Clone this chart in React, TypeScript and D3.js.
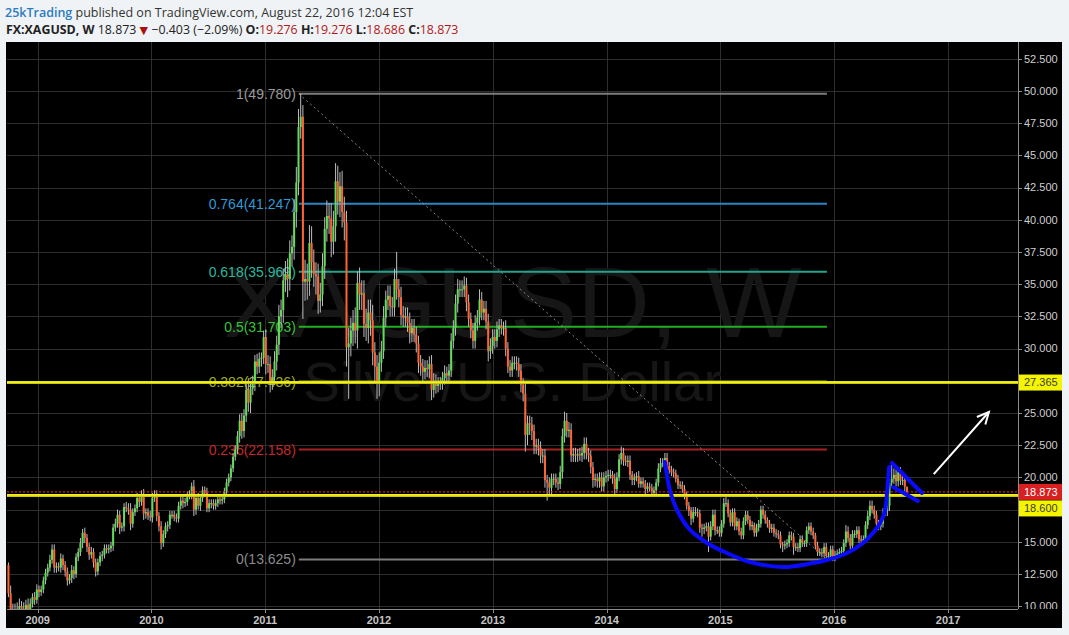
import React from "react";
import * as d3 from "d3";

// ---------------- DATA ----------------
const START_WEEK = "2008-09-29"; // first weekly bar (Monday)
const FIRST_OPEN = 13.2;

// weekly closes by year
const close2008 = [11.0, 9.7, 9.6, 8.9, 9.8, 10.0, 9.8, 9.2, 10.1, 9.7, 10.2, 10.7, 10.5, 11.3];
const close2009 = [
  11.1, 11.3, 12.0, 12.6, 13.0, 13.6, 14.4, 13.0, 13.1, 13.0, 13.7, 13.2, 12.7,
  12.0, 12.2, 12.8, 12.5, 13.8, 14.2, 14.9, 15.7, 15.3, 14.6, 14.0, 14.2, 13.4,
  12.7, 13.4, 13.9, 14.0, 14.5, 14.4, 14.5, 14.7, 16.1, 16.4, 17.1, 16.1, 16.2,
  17.7, 17.6, 17.5, 16.4, 17.3, 17.6, 18.4, 18.1, 18.6, 17.2, 17.3, 17.0, 16.9,
];
const close2010 = [
  18.4, 18.6, 17.0, 16.2, 14.9, 15.6, 16.2, 16.3, 17.1, 17.1, 16.9, 16.8, 17.8,
  18.2, 18.0, 18.1, 18.6, 18.6, 19.3, 17.5, 18.4, 17.8, 18.4, 19.0, 18.8, 17.6,
  18.0, 18.0, 17.8, 18.0, 18.3, 18.2, 18.3, 18.9, 19.6, 20.0, 20.7, 21.6, 22.2,
  23.2, 24.4, 23.6, 24.8, 26.8, 25.8, 26.9, 27.3, 29.0, 28.6, 29.2, 29.3, 30.9,
];
const close2011 = [
  28.8, 28.8, 27.4, 27.8, 29.0, 30.3, 32.5, 33.0, 35.3, 35.8, 35.4, 37.4, 37.9,
  40.6, 42.9, 47.2, 48.0, 35.2, 35.4, 35.2, 38.2, 36.7, 35.8, 35.6, 33.7, 34.2,
  36.4, 39.3, 40.3, 40.1, 38.3, 39.5, 43.0, 41.4, 42.6, 40.6, 39.8, 30.1, 30.4,
  31.4, 32.0, 31.4, 35.1, 34.2, 34.3, 31.9, 31.6, 32.8, 32.2, 29.7, 28.6, 27.3,
];
const close2012 = [
  28.9, 29.8, 32.4, 33.8, 34.1, 33.3, 33.2, 35.4, 34.6, 34.0, 32.6, 32.4, 32.5,
  32.0, 31.2, 31.6, 31.1, 30.4, 28.9, 28.6, 28.2, 28.5, 28.4, 28.8, 26.8, 27.5,
  27.1, 27.3, 27.3, 27.7, 28.1, 27.9, 28.3, 30.6, 31.6, 33.5, 34.6, 34.6, 34.6,
  34.9, 33.6, 32.3, 31.4, 30.6, 32.0, 32.4, 33.8, 32.8, 33.1, 32.1, 29.8, 30.2, 30.9,
];
const close2013 = [
  30.6, 31.5, 31.8, 31.6, 31.6, 30.0, 28.6, 28.3, 28.9, 28.9, 28.8, 28.3, 27.2,
  26.5, 23.3, 24.2, 24.1, 23.6, 22.4, 22.5, 22.3, 21.7, 21.7, 19.8, 19.6, 19.2,
  19.9, 19.9, 19.6, 19.5, 20.4, 23.2, 24.4, 23.6, 23.7, 21.7, 21.8, 21.7, 21.8,
  21.7, 21.9, 22.6, 21.9, 21.7, 20.8, 19.8, 19.9, 19.7, 20.0, 19.3, 20.0, 20.1,
];
const close2014 = [
  20.2, 20.2, 19.9, 19.1, 20.0, 21.4, 21.9, 21.3, 21.2, 21.3, 20.2, 19.8, 20.0,
  20.1, 19.5, 19.7, 19.5, 19.1, 19.3, 19.2, 18.8, 19.0, 19.6, 20.7, 21.1, 21.1,
  21.5, 20.9, 20.6, 20.4, 20.3, 19.9, 19.4, 19.4, 19.1, 18.6, 17.8, 17.4, 16.8,
  17.3, 17.3, 17.2, 16.1, 16.0, 16.1, 16.2, 15.4, 16.2, 17.1, 15.9, 15.9, 15.7,
];
const close2015 = [
  16.4, 18.0, 18.0, 17.2, 16.5, 17.3, 16.2, 16.6, 15.8, 15.5, 16.6, 17.1, 16.7,
  16.2, 16.3, 15.7, 16.1, 16.4, 17.5, 17.1, 16.7, 16.4, 16.0, 16.1, 15.7, 15.6,
  15.5, 14.8, 14.7, 14.8, 14.9, 15.5, 15.4, 14.6, 14.6, 14.5, 15.2, 14.9, 14.9,
  15.9, 16.2, 15.8, 15.5, 14.7, 14.2, 14.2, 14.1, 14.6, 13.9, 13.9, 14.4, 13.8,
];
const close2016 = [
  14.0, 14.1, 14.2, 14.3, 14.9, 15.8, 15.3, 14.7, 15.6, 15.6, 15.9, 15.2, 15.1,
  15.2, 16.3, 17.0, 17.8, 17.5, 17.1, 16.4, 16.2, 16.4, 17.3, 17.4, 17.8, 19.6,
  19.9, 20.2, 19.7, 20.4, 19.8, 19.8, 19.276, 18.873,
];

// wick extension above the body (tenths of a dollar)
const hiExt2008 = [2, 6, 5, 6, 5, 6, 4, 5, 4, 5, 4, 3, 4, 4];
const hiExt2009 = [
  3, 3, 3, 3, 3, 4, 4, 4, 3, 3, 4, 3, 3,
  3, 3, 4, 3, 3, 3, 4, 3, 4, 3, 3, 4, 3,
  3, 3, 3, 3, 3, 3, 3, 3, 3, 4, 4, 3, 3,
  3, 4, 4, 5, 3, 3, 4, 3, 4, 5, 3, 3, 4,
];
const hiExt2010 = [
  4, 4, 4, 3, 4, 3, 3, 3, 3, 3, 3, 3, 3,
  3, 3, 3, 3, 4, 3, 5, 3, 4, 3, 3, 3, 4,
  3, 3, 3, 3, 3, 3, 3, 3, 3, 3, 3, 3, 3,
  4, 5, 6, 5, 6, 9, 5, 6, 5, 6, 5, 4, 5,
];
const hiExt2011 = [
  6, 7, 6, 6, 8, 7, 9, 8, 9, 10, 12, 10, 9,
  10, 12, 14, 18, 9, 15, 12, 14, 13, 10, 9, 10, 9,
  10, 9, 12, 10, 12, 12, 14, 12, 11, 12, 12, 9, 12,
  10, 10, 12, 9, 12, 10, 10, 12, 10, 10, 12, 8, 9,
];
const hiExt2012 = [
  8, 8, 9, 7, 8, 8, 7, 8, 21, 8, 8, 7, 7,
  7, 8, 7, 7, 6, 6, 6, 6, 6, 6, 6, 7, 6,
  5, 5, 5, 5, 6, 5, 5, 6, 6, 7, 8, 7, 7,
  7, 6, 6, 5, 6, 6, 6, 8, 6, 6, 6, 6, 6, 6,
];
const hiExt2013 = [
  6, 6, 5, 5, 5, 6, 5, 5, 5, 5, 5, 5, 5,
  5, 8, 6, 6, 6, 5, 5, 5, 5, 5, 5, 4, 4,
  4, 4, 4, 4, 5, 6, 7, 6, 6, 5, 5, 5, 4,
  5, 5, 5, 5, 4, 4, 4, 4, 4, 4, 4, 4, 4,
];
const hiExt2014 = [
  4, 4, 3, 4, 4, 4, 5, 4, 4, 4, 4, 3, 3,
  3, 4, 3, 3, 3, 3, 3, 3, 3, 3, 4, 4, 4,
  4, 4, 3, 3, 3, 3, 3, 3, 3, 3, 3, 3, 3,
  4, 4, 3, 3, 3, 3, 3, 3, 4, 4, 4, 3, 3,
];
const hiExt2015 = [
  3, 4, 5, 3, 3, 3, 3, 3, 2, 3, 3, 3, 3,
  3, 3, 2, 3, 3, 3, 3, 3, 2, 3, 3, 3, 3,
  3, 3, 2, 3, 3, 3, 3, 3, 3, 3, 3, 3, 2,
  3, 3, 3, 3, 2, 3, 3, 3, 3, 3, 3, 3, 3,
];
const hiExt2016 = [
  3, 3, 3, 3, 3, 5, 4, 3, 3, 3, 3, 3, 3,
  3, 3, 4, 4, 4, 3, 3, 3, 3, 3, 3, 3, 3,
  12, 5, 4, 4, 4, 3, 4, 0,
];

// wick extension below the body (tenths of a dollar)
const loExt2008 = [3, 6, 7, 5, 4, 4, 5, 6, 4, 4, 3, 3, 4, 3];
const loExt2009 = [
  4, 3, 3, 3, 3, 3, 3, 4, 4, 3, 4, 4, 4,
  4, 3, 4, 4, 3, 3, 3, 4, 4, 4, 4, 3, 4,
  4, 3, 3, 4, 3, 3, 3, 3, 4, 3, 3, 5, 3,
  4, 3, 4, 5, 3, 3, 3, 4, 3, 5, 4, 3, 3,
];
const loExt2010 = [
  4, 3, 4, 4, 5, 3, 3, 4, 3, 3, 3, 3, 3,
  3, 4, 3, 3, 3, 3, 5, 4, 3, 4, 3, 3, 3,
  3, 4, 3, 3, 3, 3, 3, 3, 3, 3, 3, 3, 3,
  4, 5, 6, 5, 5, 7, 8, 5, 6, 6, 5, 6, 5,
];
const loExt2011 = [
  8, 7, 8, 6, 6, 7, 8, 9, 10, 9, 14, 9, 10,
  10, 12, 10, 9, 29, 15, 14, 11, 12, 10, 14, 10, 9,
  9, 10, 10, 12, 12, 10, 12, 10, 12, 12, 14, 15, 40,
  10, 12, 10, 14, 12, 12, 10, 10, 12, 12, 10, 12, 12,
];
const loExt2012 = [
  10, 7, 6, 7, 8, 8, 7, 7, 8, 8, 8, 7, 7,
  7, 8, 7, 6, 7, 8, 7, 7, 6, 6, 7, 8, 6,
  6, 5, 5, 5, 5, 5, 5, 5, 6, 6, 7, 6, 6,
  6, 7, 6, 6, 6, 6, 6, 6, 6, 6, 6, 8, 6, 6,
];
const loExt2013 = [
  6, 5, 6, 5, 6, 6, 5, 5, 5, 5, 5, 5, 6,
  6, 13, 8, 8, 7, 6, 6, 6, 6, 6, 6, 14, 6,
  5, 5, 4, 5, 4, 5, 5, 5, 5, 5, 5, 5, 5,
  4, 5, 5, 5, 5, 5, 6, 5, 5, 5, 4, 4, 4,
];
const loExt2014 = [
  4, 3, 4, 4, 3, 3, 4, 4, 3, 4, 4, 4, 4,
  3, 3, 3, 3, 4, 3, 3, 3, 3, 3, 3, 3, 3,
  3, 4, 3, 3, 3, 3, 3, 3, 3, 3, 3, 4, 5,
  3, 3, 3, 4, 6, 4, 3, 12, 3, 3, 4, 3, 3,
];
const loExt2015 = [
  3, 3, 3, 3, 3, 3, 3, 3, 3, 3, 3, 3, 3,
  3, 3, 3, 3, 3, 3, 3, 3, 3, 3, 3, 3, 3,
  3, 3, 5, 3, 3, 3, 3, 6, 3, 3, 3, 3, 3,
  3, 3, 3, 3, 3, 3, 3, 3, 3, 3, 3, 3, 3,
];
const loExt2016 = [
  3, 3, 3, 3, 3, 3, 3, 3, 3, 3, 3, 3, 3,
  3, 3, 3, 3, 3, 3, 3, 3, 3, 3, 3, 4, 4,
  4, 4, 4, 4, 4, 4, 4, 2,
];

const priceTicks = [10, 12.5, 15, 17.5, 20, 22.5, 25, 27.5, 30, 32.5, 35, 37.5, 40, 42.5, 45, 47.5, 50, 52.5];

// Fibonacci retracement
const FIB_HIGH = 49.78;
const FIB_LOW = 13.625;
const FIB_START = "2011-04-19";
const FIB_END = "2015-12-09";
const fibRatios = [1, 0.764, 0.618, 0.5, 0.382, 0.236, 0];
const fibLineColors = ["#7c7c7c", "#2a86c4", "#22a58c", "#22b022", "#a4ae1e", "#a82222", "#7c7c7c"];
const fibTextColors = ["#9a9a9a", "#2e9ad6", "#2ab89c", "#36c436", "#a0ae26", "#c42828", "#8c8c8c"];

// horizontal levels
const yellowLevels = [27.365, 18.6];

// hand-drawn annotations: [date, price]
const cupPoints: [string, number][] = [
  ["2014-07-07", 21.2], ["2014-07-23", 19.02], ["2014-08-15", 17.47], ["2014-09-26", 15.92],
  ["2014-11-19", 14.91], ["2015-01-22", 14.13], ["2015-04-06", 13.43], ["2015-07-21", 13.04],
  ["2015-10-25", 13.35], ["2015-12-09", 13.59], ["2016-02-12", 14.13], ["2016-04-03", 14.91],
  ["2016-05-05", 15.68], ["2016-05-28", 16.46], ["2016-06-13", 17.47], ["2016-06-19", 18.79],
  ["2016-06-26", 20.81],
];
const flagUpper: [string, number][] = [["2016-07-05", 21.12], ["2016-10-09", 18.79]];
const flagLower: [string, number][] = [["2016-07-08", 19.25], ["2016-09-26", 18.17]];
const arrowPts: [string, number][] = [["2016-11-16", 20.26], ["2017-05-12", 25.08]];

// header
const SYMBOL = "FX:XAGUSD, W";
const LAST = 18.873;
const CHANGE = -0.403;
const CHANGE_PCT = -2.09;
const OHLC = { O: 19.276, H: 19.276, L: 18.686, C: 18.873 };

// ---------------- LAYOUT ----------------
const W = 1069;
const H = 635;
const PL = 7;
const PR = 1018;
const PT = 42;
const PB = 609;

const parse = d3.utcParse("%Y-%m-%d");
const xCal = d3.scaleUtc().domain([parse("2009-01-05")!, parse("2016-01-04")!]).range([39, 835]);
const x = d3.scaleUtc().domain([xCal.invert(PL), xCal.invert(PR)]).range([PL, PR]);
const y = d3.scaleLinear().domain([9.783, 53.804]).range([PB, PT]);

const closes = [
  ...close2008, ...close2009, ...close2010, ...close2011, ...close2012,
  ...close2013, ...close2014, ...close2015, ...close2016,
];
const hiExt = [
  ...hiExt2008, ...hiExt2009, ...hiExt2010, ...hiExt2011, ...hiExt2012,
  ...hiExt2013, ...hiExt2014, ...hiExt2015, ...hiExt2016,
];
const loExt = [
  ...loExt2008, ...loExt2009, ...loExt2010, ...loExt2011, ...loExt2012,
  ...loExt2013, ...loExt2014, ...loExt2015, ...loExt2016,
];

const start = parse(START_WEEK)!;
const candles = closes.map((c, i) => {
  const o = i === 0 ? FIRST_OPEN : closes[i - 1];
  const h = Math.max(o, c) + (hiExt[i] ?? 3) / 10;
  const l = Math.min(o, c) - (loExt[i] ?? 3) / 10;
  return { date: d3.utcDay.offset(start, 7 * i), o, h, l, c };
});

const fmt3 = d3.format(".3f");
const pt = (p: [string, number]): [number, number] => [x(parse(p[0])!), y(p[1])];

export default function App() {
  const years = x.ticks(d3.utcYear.every(1)!);
  const fibX1 = x(parse(FIB_START)!);
  const fibX2 = x(parse(FIB_END)!);
  const lastClose = candles[candles.length - 1].c;

  const cupLine = d3.line().curve(d3.curveCatmullRom.alpha(0.5))(cupPoints.map(pt)) || "";
  const [a0, a1] = arrowPts.map(pt);
  const ang = Math.atan2(a1[1] - a0[1], a1[0] - a0[0]);
  const headLen = 13;
  const wing = (s: number) => [a1[0] - headLen * Math.cos(ang + s * 0.45), a1[1] - headLen * Math.sin(ang + s * 0.45)];
  const w1 = wing(1);
  const w2 = wing(-1);

  const boxes = [
    { v: yellowLevels[0], cy: y(yellowLevels[0]), fill: "#f5f500", color: "#3a3a3a" },
    { v: lastClose, cy: y(lastClose), fill: "#d92020", color: "#ffffff" },
    { v: yellowLevels[1], cy: y(yellowLevels[1]) + 13, fill: "#f5f500", color: "#3a3a3a" },
  ];

  const bodyW = 2;

  return (
    <div style={{ position: "fixed", left: 0, top: 0, width: W, height: H, background: "#f0f3f6" }}>
      <svg width={W} height={H} style={{ display: "block" }}>
        <defs>
          <clipPath id="plot">
            <rect x={PL} y={PT} width={PR - PL} height={PB - PT} />
          </clipPath>
          <clipPath id="axisR">
            <rect x={PR} y={PT} width={W - PR} height={PB - PT} />
          </clipPath>
        </defs>

        {/* header */}
        <text x={5} y={17} fontFamily="'Open Sans', sans-serif" fontSize={12.5}>
          <tspan fill="#2b7cc0" fontWeight={600}>25kTrading</tspan>
          <tspan fill="#333"> published on TradingView.com, August 22, 2016 12:04 EST</tspan>
        </text>
        <text x={6} y={34} fontFamily="'Open Sans', sans-serif" fontSize={12.4} fill="#222">
          <tspan fontWeight={700}>{SYMBOL}</tspan>
          <tspan> {fmt3(LAST)} </tspan>
          <tspan fill="#a80f0f" fontFamily="'DejaVu Sans', sans-serif" fontSize={11}>▼</tspan>
          <tspan> {"\u2212" + fmt3(Math.abs(CHANGE))} ({"\u2212" + Math.abs(CHANGE_PCT).toFixed(2)}%) </tspan>
          <tspan fontWeight={700}>O:</tspan>
          <tspan fill="#b01818">{fmt3(OHLC.O)} </tspan>
          <tspan fontWeight={700}>H:</tspan>
          <tspan fill="#b01818">{fmt3(OHLC.H)} </tspan>
          <tspan fontWeight={700}>L:</tspan>
          <tspan fill="#b01818">{fmt3(OHLC.L)} </tspan>
          <tspan fontWeight={700}>C:</tspan>
          <tspan fill="#b01818">{fmt3(OHLC.C)}</tspan>
        </text>

        {/* chart background */}
        <rect x={6} y={PT} width={1056} height={628 - PT} fill="#000" />

        {/* grid */}
        {priceTicks.map((t) => (
          <line key={"hg" + t} x1={PL} x2={PR} y1={Math.round(y(t)) + 0.5} y2={Math.round(y(t)) + 0.5} stroke="#2e2e2e" />
        ))}
        {years.map((d) => (
          <line key={"vg" + d.getTime()} x1={Math.round(x(d)) + 0.5} x2={Math.round(x(d)) + 0.5} y1={PT} y2={PB} stroke="#2e2e2e" />
        ))}

        {/* watermark */}
        <g fontFamily="'Liberation Sans', Arial, sans-serif" fill="#161616" textAnchor="middle">
          <text x={(PL + PR) / 2} y={337} fontSize={101}>XAGUSD, W</text>
          <text x={(PL + PR) / 2} y={401} fontSize={55}>Silver/U.S. Dollar</text>
        </g>

        <g clipPath="url(#plot)">
          {/* fib levels */}
          {fibRatios.map((r, i) => {
            const v = FIB_LOW + r * (FIB_HIGH - FIB_LOW);
            const yy = y(v);
            return (
              <g key={"fib" + r}>
                <line x1={fibX1} x2={fibX2} y1={yy} y2={yy} stroke={fibLineColors[i]} strokeWidth={2} />
                <text x={fibX1 - 3} y={yy} dy="0.35em" textAnchor="end" fontSize={14}
                  fontFamily="'Liberation Sans', Arial, sans-serif" fill={fibTextColors[i]}>
                  {`${r}(${fmt3(v)})`}
                </text>
              </g>
            );
          })}
          {/* fib trend line */}
          <line x1={fibX1} y1={y(FIB_HIGH)} x2={fibX2} y2={y(FIB_LOW)} stroke="#8a8a8a" strokeWidth={1} strokeDasharray="2,3" />

          {/* candles */}
          {candles.map((d, i) => {
            const cx = x(d.date);
            const up = d.c >= d.o;
            const top = y(Math.max(d.o, d.c));
            const bot = y(Math.min(d.o, d.c));
            return (
              <g key={"c" + i}>
                <line x1={cx} x2={cx} y1={y(d.h)} y2={y(d.l)} stroke="#bdbdbd" strokeWidth={1} />
                <rect x={cx - bodyW / 2} y={top} width={bodyW} height={Math.max(1, bot - top)}
                  fill={up ? "#62dd5a" : "#ff6436"} />
              </g>
            );
          })}

          {/* horizontal levels */}
          {yellowLevels.map((v) => (
            <g key={"yl" + v}>
              <line x1={PL} x2={PR} y1={y(v)} y2={y(v)} stroke="#c8c800" strokeWidth={3} />
              <line x1={PL} x2={PR} y1={y(v) - 0.5} y2={y(v) - 0.5} stroke="#ffff2a" strokeWidth={1.2} />
            </g>
          ))}
          <line x1={PL} x2={PR} y1={y(lastClose)} y2={y(lastClose)} stroke="#ff2424" strokeWidth={1} strokeDasharray="2,2" />

          {/* annotations */}
          <path d={cupLine} fill="none" stroke="#0a0aff" strokeWidth={4} strokeLinecap="round" />
          {[flagUpper, flagLower].map((seg, i) => {
            const [p0, p1] = seg.map(pt);
            return <line key={"fl" + i} x1={p0[0]} y1={p0[1]} x2={p1[0]} y2={p1[1]} stroke="#0a0aff" strokeWidth={4} strokeLinecap="round" />;
          })}
          <line x1={a0[0]} y1={a0[1]} x2={a1[0]} y2={a1[1]} stroke="#fff" strokeWidth={2} />
          <polyline points={`${w1[0]},${w1[1]} ${a1[0]},${a1[1]} ${w2[0]},${w2[1]}`} fill="none" stroke="#fff" strokeWidth={2} />
        </g>

        {/* axes */}
        <line x1={PL} x2={PR} y1={PB + 0.5} y2={PB + 0.5} stroke="#8c8c8c" />
        <line x1={PR + 0.5} x2={PR + 0.5} y1={PT} y2={PB} stroke="#8c8c8c" />
        {years.map((d) => (
          <g key={"yt" + d.getTime()}>
            <line x1={Math.round(x(d)) + 0.5} x2={Math.round(x(d)) + 0.5} y1={PB} y2={PB + 4} stroke="#8c8c8c" />
            <text x={x(d)} y={624} textAnchor="middle" fontFamily="'Liberation Sans', Arial, sans-serif"
              fontWeight={700} fontSize={11} fill="#c4c4c4">
              {d3.utcFormat("%Y")(d)}
            </text>
          </g>
        ))}
        <g clipPath="url(#axisR)">
          {priceTicks.map((t) => {
            const yy = y(t);
            const hidden = boxes.some((b) => Math.abs(b.cy - yy) < 13);
            return (
              <g key={"pt" + t}>
                <line x1={PR} x2={PR + 4} y1={Math.round(yy) + 0.5} y2={Math.round(yy) + 0.5} stroke="#8c8c8c" />
                {!hidden && (
                  <text x={1024} y={yy} dy="0.35em" fontFamily="'Liberation Sans', Arial, sans-serif" fontSize={11} fill="#cfcfcf">
                    {fmt3(t)}
                  </text>
                )}
              </g>
            );
          })}
          {boxes.map((b) => (
            <g key={"bx" + b.v}>
              <rect x={PR + 1} y={b.cy - 8} width={1062 - PR - 1} height={16} fill={b.fill} />
              <text x={1024} y={b.cy} dy="0.35em" fontFamily="'Liberation Sans', Arial, sans-serif" fontSize={11} fill={b.color}>
                {fmt3(b.v)}
              </text>
            </g>
          ))}
        </g>
      </svg>
    </div>
  );
}
